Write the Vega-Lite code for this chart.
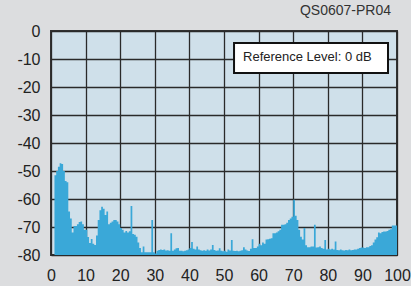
{
  "$schema": "https://vega.github.io/schema/vega-lite/v6.json",
  "autosize": "none",
  "width": 346,
  "height": 224,
  "padding": {"left": 51, "top": 31, "right": 14, "bottom": 31},
  "background": "#dcdddf",
  "title": {"text": "QS0607-PR04", "anchor": "end", "frame": "group", "orient": "top", "offset": 5, "dx": -6, "fontSize": 14, "font": "Liberation Sans", "fontWeight": "normal", "color": "#333333"},
  "config": {
    "view": {"fill": "#cfe0ea", "stroke": "#333333", "strokeWidth": 2},
    "axis": {"grid": true, "gridColor": "#2a2a2a", "gridWidth": 1.3, "gridOpacity": 1, "domain": false, "ticks": false, "labelFont": "Liberation Sans", "labelFontSize": 16, "labelColor": "#222222", "title": null, "zindex": 1, "labelExpr": "'' + datum.value"}
  },
  "layer": [
    {
      "data": {"values": [
        {"f":0,"db":-80},{"f":0.5,"db":-80},{"f":1,"db":-51.5},{"f":1.5,"db":-50},{"f":2,"db":-48.5},{"f":2.5,"db":-47.2},{"f":3,"db":-47.5},{"f":3.5,"db":-50},{"f":4,"db":-53.6},{"f":4.5,"db":-54},
        {"f":5,"db":-64.5},{"f":5.5,"db":-67},{"f":6,"db":-72},{"f":6.5,"db":-69.6},{"f":7,"db":-69.6},{"f":7.5,"db":-69},{"f":8,"db":-68.2},{"f":8.5,"db":-68},{"f":9,"db":-69},{"f":9.5,"db":-71},
        {"f":10,"db":-71},{"f":10.5,"db":-73.6},{"f":11,"db":-75.7},{"f":11.5,"db":-74.3},{"f":12,"db":-76},{"f":12.5,"db":-76.4},{"f":13,"db":-73},{"f":13.5,"db":-67.5},{"f":14,"db":-64},{"f":14.5,"db":-62.8},
        {"f":15,"db":-63.5},{"f":15.5,"db":-65.7},{"f":16,"db":-64.5},{"f":16.5,"db":-69},{"f":17,"db":-68.5},{"f":17.5,"db":-68},{"f":18,"db":-67.5},{"f":18.5,"db":-67.5},{"f":19,"db":-68},{"f":19.5,"db":-69},
        {"f":20,"db":-70.4},{"f":20.5,"db":-71},{"f":21,"db":-72},{"f":21.5,"db":-71.4},{"f":22,"db":-72},{"f":22.5,"db":-71.5},{"f":23,"db":-62.5},{"f":23.5,"db":-72.5},{"f":24,"db":-72.8},{"f":24.5,"db":-73.5},
        {"f":25,"db":-75.5},{"f":25.5,"db":-77.5},{"f":26,"db":-79},{"f":26.5,"db":-77},{"f":27,"db":-79},{"f":27.5,"db":-79},{"f":28,"db":-79},{"f":28.5,"db":-79},{"f":29,"db":-67.5},{"f":29.5,"db":-79},
        {"f":30,"db":-79.5},{"f":30.5,"db":-78.5},{"f":31,"db":-78.2},{"f":31.5,"db":-78},{"f":32,"db":-78.2},{"f":32.5,"db":-78},{"f":33,"db":-78.4},{"f":33.5,"db":-78.3},{"f":34,"db":-78.5},{"f":34.5,"db":-72.2},
        {"f":35,"db":-78.5},{"f":35.5,"db":-78},{"f":36,"db":-77.6},{"f":36.5,"db":-77.5},{"f":37,"db":-78.5},{"f":37.5,"db":-78.5},{"f":38,"db":-78.7},{"f":38.5,"db":-78.5},{"f":39,"db":-78.3},{"f":39.5,"db":-78},
        {"f":40,"db":-77.5},{"f":40.5,"db":-75.4},{"f":41,"db":-77.8},{"f":41.5,"db":-78},{"f":42,"db":-77},{"f":42.5,"db":-78},{"f":43,"db":-78.3},{"f":43.5,"db":-78.5},{"f":44,"db":-78.3},{"f":44.5,"db":-78.5},
        {"f":45,"db":-78},{"f":45.5,"db":-78.4},{"f":46,"db":-78},{"f":46.5,"db":-76.4},{"f":47,"db":-78.2},{"f":47.5,"db":-78.5},{"f":48,"db":-78.4},{"f":48.5,"db":-77.6},{"f":49,"db":-78.5},{"f":49.5,"db":-78.7},
        {"f":50,"db":-78.5},{"f":50.5,"db":-78.8},{"f":51,"db":-78},{"f":51.5,"db":-78.4},{"f":52,"db":-74.6},{"f":52.5,"db":-78.5},{"f":53,"db":-78.6},{"f":53.5,"db":-78.5},{"f":54,"db":-78.7},{"f":54.5,"db":-78.5},
        {"f":55,"db":-78.3},{"f":55.5,"db":-77.2},{"f":56,"db":-78},{"f":56.5,"db":-78.4},{"f":57,"db":-78.6},{"f":57.5,"db":-77.8},{"f":58,"db":-74.4},{"f":58.5,"db":-77.5},{"f":59,"db":-77.5},{"f":59.5,"db":-77},
        {"f":60,"db":-76},{"f":60.5,"db":-76.5},{"f":61,"db":-75.5},{"f":61.5,"db":-76},{"f":62,"db":-74.5},{"f":62.5,"db":-74.4},{"f":63,"db":-74.2},{"f":63.5,"db":-74},{"f":64,"db":-72.2},{"f":64.5,"db":-72.2},
        {"f":65,"db":-72},{"f":65.5,"db":-71.5},{"f":66,"db":-71},{"f":66.5,"db":-69.2},{"f":67,"db":-69.2},{"f":67.5,"db":-69},{"f":68,"db":-68.5},{"f":68.5,"db":-67.5},{"f":69,"db":-67},{"f":69.5,"db":-66.3},
        {"f":70,"db":-60.3},{"f":70.5,"db":-66},{"f":71,"db":-67.5},{"f":71.5,"db":-71},{"f":72,"db":-73.5},{"f":72.5,"db":-74.5},{"f":73,"db":-70.4},{"f":73.5,"db":-76.5},{"f":74,"db":-77.2},{"f":74.5,"db":-77.2},
        {"f":75,"db":-77},{"f":75.5,"db":-77},{"f":76,"db":-69.2},{"f":76.5,"db":-77.3},{"f":77,"db":-77.2},{"f":77.5,"db":-77},{"f":78,"db":-77.5},{"f":78.5,"db":-77.8},{"f":79,"db":-74.6},{"f":79.5,"db":-78},
        {"f":80,"db":-77.8},{"f":80.5,"db":-78},{"f":81,"db":-77.8},{"f":81.5,"db":-78},{"f":82,"db":-75.2},{"f":82.5,"db":-78.2},{"f":83,"db":-78.3},{"f":83.5,"db":-78},{"f":84,"db":-78.3},{"f":84.5,"db":-78.4},
        {"f":85,"db":-78.2},{"f":85.5,"db":-78.3},{"f":86,"db":-78},{"f":86.5,"db":-78.3},{"f":87,"db":-78.2},{"f":87.5,"db":-78},{"f":88,"db":-78},{"f":88.5,"db":-77.8},{"f":89,"db":-77.5},{"f":89.5,"db":-77.3},
        {"f":90,"db":-77.3},{"f":90.5,"db":-77.5},{"f":91,"db":-77.2},{"f":91.5,"db":-77.2},{"f":92,"db":-76.8},{"f":92.5,"db":-76.5},{"f":93,"db":-75.5},{"f":93.5,"db":-74.5},{"f":94,"db":-73.7},{"f":94.5,"db":-72},
        {"f":95,"db":-72.2},{"f":95.5,"db":-71.8},{"f":96,"db":-71.6},{"f":96.5,"db":-71.6},{"f":97,"db":-71.4},{"f":97.5,"db":-71},{"f":98,"db":-70.8},{"f":98.5,"db":-69.5},{"f":99,"db":-69.5},{"f":99.5,"db":-69.5},{"f":100,"db":-69.5}
      ]},
      "mark": {"type": "area", "interpolate": "step-after", "color": "#3aa8d8"},
      "encoding": {
        "x": {"field": "f", "type": "quantitative", "scale": {"domain": [0, 100], "nice": false}, "axis": {"values": [0,10,20,30,40,50,60,70,80,90,100], "labelPadding": 12, "labelFlush": false, "labelOverlap": false}},
        "y": {"field": "db", "type": "quantitative", "scale": {"domain": [-80, 0], "nice": false}, "axis": {"values": [0,-10,-20,-30,-40,-50,-60,-70,-80], "labelPadding": 11, "labelOverlap": false}},
        "y2": {"datum": -80}
      }
    },
    {
      "data": {"values": [{"label": "Reference Level: 0 dB"}]},
      "mark": {"type": "rect", "fill": "white", "stroke": "#111111", "strokeWidth": 2},
      "encoding": {
        "x": {"datum": 52.9, "type": "quantitative", "axis": {"values": [0,10,20,30,40,50,60,70,80,90,100], "labelPadding": 12, "labelFlush": false, "labelOverlap": false}},
        "x2": {"datum": 97.4},
        "y": {"datum": -4.3, "type": "quantitative", "axis": {"values": [0,-10,-20,-30,-40,-50,-60,-70,-80], "labelPadding": 11, "labelOverlap": false}},
        "y2": {"datum": -15}
      }
    },
    {
      "data": {"values": [{"label": "Reference Level: 0 dB"}]},
      "mark": {"type": "text", "align": "left", "baseline": "middle", "font": "Liberation Sans", "fontSize": 13, "fill": "#222222"},
      "encoding": {
        "text": {"field": "label"},
        "x": {"datum": 55.5, "type": "quantitative", "axis": {"values": [0,10,20,30,40,50,60,70,80,90,100], "labelPadding": 12, "labelFlush": false, "labelOverlap": false}},
        "y": {"datum": -9.4, "type": "quantitative", "axis": {"values": [0,-10,-20,-30,-40,-50,-60,-70,-80], "labelPadding": 11, "labelOverlap": false}}
      }
    }
  ]
}
